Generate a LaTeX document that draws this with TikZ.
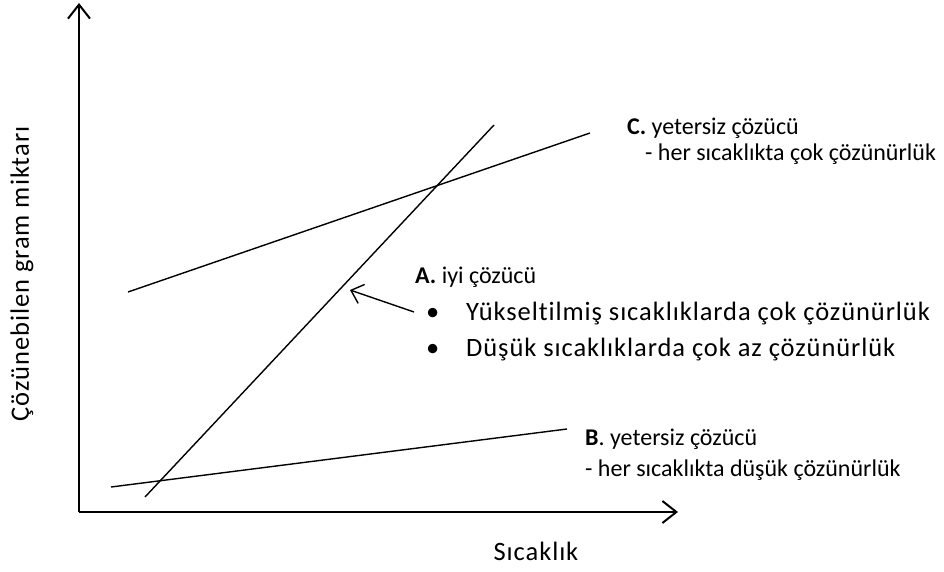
\documentclass[tikz,border=0pt]{standalone}
\usepackage{fontspec}
\setmainfont{Carlito}[Ligatures=NoCommon]
\usetikzlibrary{arrows.meta,positioning}

\begin{document}
\begin{tikzpicture}[x=1pt,y=-1pt,
  axis/.style={line width=2pt,-{Straight Barb[length=14pt,width=22pt,line width=2pt]}},
  curve/.style={line width=1.4pt},
  lbl/.style={anchor=west,inner sep=0pt,font=\fontsize{24}{28}\selectfont},
  big/.style={lbl,font=\fontsize{26.5}{30}\selectfont\addfontfeature{LetterSpace=3.5}}]
\useasboundingbox (0,0) rectangle (944,572);
% axes
\coordinate (o) at (79,512);
\coordinate (ytop) at (79,3);
\coordinate (xend) at (678,512);
\draw[axis] (o) -- (ytop);
\draw[axis] (o) -- (xend);
\node[big,anchor=center,rotate=90] (ylab) at (22,274) {Çözünebilen gram miktarı};
\node[big,anchor=center] (xlab) at (536,551) {Sıcaklık};
% solvent lines
\coordinate (c0) at (128,292); \coordinate (c1) at (590,133);
\coordinate (a0) at (145,497); \coordinate (a1) at (494,125);
\coordinate (b0) at (111,487); \coordinate (b1) at (567,429);
\draw[curve] (c0) -- (c1);
\draw[curve] (a0) -- (a1);
\draw[curve] (b0) -- (b1);
% labels
\node[lbl] (labC) at (627,128) {\textbf{C.} yetersiz çözücü};
\node[lbl] (labC2) at (645,154) {- her sıcaklıkta çok çözünürlük};
\node[lbl] (labA) at (415,277) {\textbf{A.} iyi çözücü};
\node[big] (dot1) at (426,314) {\textbullet};
\node[big] (labA1) at (466,314) {Yükseltilmiş sıcaklıklarda çok çözünürlük};
\node[big] (dot2) at (426,350) {\textbullet};
\node[big] (labA2) at (466,350) {Düşük sıcaklıklarda çok az çözünürlük};
\node[lbl] (labB) at (585,439) {\textbf{B}. yetersiz çözücü};
\node[lbl] (labB2) at (585,470) {- her sıcaklıkta düşük çözünürlük};
% pointer to A
\coordinate (ptr) at (414,312);
\coordinate (ptrtip) at (350,290);
\draw[curve,-{Straight Barb[length=11pt,width=20pt,line width=1.4pt]}] (ptr) -- (ptrtip);
\end{tikzpicture}
\end{document}
